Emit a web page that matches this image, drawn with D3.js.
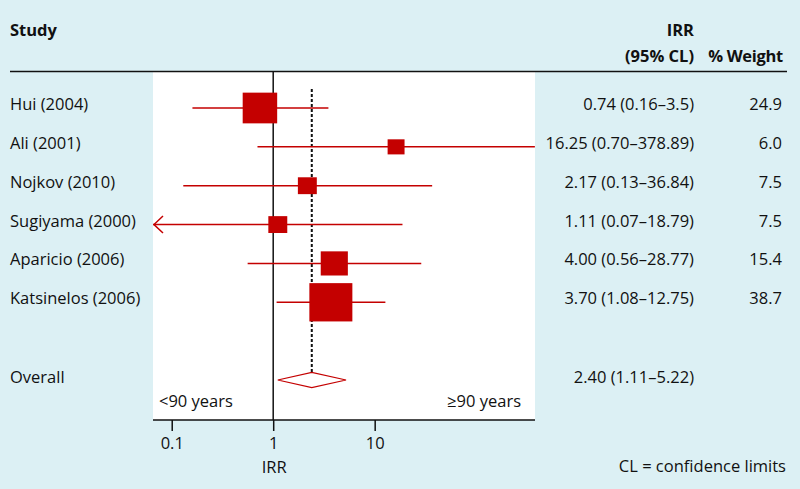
<!DOCTYPE html>
<html><head><meta charset="utf-8">
<script src="https://cdn.jsdelivr.net/npm/d3@7"></script>
<style>
html,body{margin:0;padding:0;background:#dcf0f4;}
svg{display:block;font-family:"Open Sans",sans-serif;}
</style></head><body>
<div id="chart"></div>
<script>
const studies = ["Hui (2004)", "Ali (2001)", "Nojkov (2010)", "Sugiyama (2000)", "Aparicio (2006)", "Katsinelos (2006)"];
const irr = [0.74, 16.25, 2.17, 1.11, 4.00, 3.70];
const lower = [0.16, 0.70, 0.13, 0.07, 0.56, 1.08];
const upper = [3.5, 378.89, 36.84, 18.79, 28.77, 12.75];
const ciLabels = ["0.74 (0.16–3.5)", "16.25 (0.70–378.89)", "2.17 (0.13–36.84)", "1.11 (0.07–18.79)", "4.00 (0.56–28.77)", "3.70 (1.08–12.75)"];
const weight = [24.9, 6.0, 7.5, 7.5, 15.4, 38.7];
const overallLabel = "Overall";
const overall = [2.40, 1.11, 5.22];
const overallText = "2.40 (1.11–5.22)";
const xTicks = [0.1, 1, 10];

const W = 800, H = 489;
const red = "#c40000";
const FS = 16.5;
const svg = d3.select("#chart").append("svg").attr("width", W).attr("height", H);
svg.append("rect").attr("width", W).attr("height", H).attr("fill", "#dcf0f4");

const x = d3.scaleLog().domain([0.07, 380]).range([156, 535]);
const y = d3.scaleLinear().domain([0, 7]).range([108, 380]);
const wScale = d3.scaleSqrt().domain([0, 38.7]).range([0, 43]);
const hScale = d3.scaleSqrt().domain([0, 38.7]).range([0, 38.3]);

const panelL = 153, panelR = 535, panelT = 72, panelB = 420;

// white panel
svg.append("rect").attr("x", panelL).attr("y", panelT).attr("width", panelR - panelL).attr("height", panelB - panelT).attr("fill", "#fff");

svg.append("clipPath").attr("id", "clip").append("rect")
  .attr("x", panelL).attr("y", panelT).attr("width", panelR - panelL).attr("height", panelB - panelT);
const plot = svg.append("g").attr("clip-path", "url(#clip)");

// header
svg.append("text").attr("x", 10).attr("y", 36).attr("font-size", FS).attr("font-weight", "bold").attr("fill", "#111").text("Study");
svg.append("text").attr("x", 694).attr("y", 36).attr("text-anchor", "end").attr("font-size", FS).attr("font-weight", "bold").attr("fill", "#111").text("IRR");
svg.append("text").attr("x", 694).attr("y", 62).attr("text-anchor", "end").attr("font-size", FS).attr("font-weight", "bold").attr("fill", "#111").text("(95% CL)");
svg.append("text").attr("x", 783).attr("y", 62).attr("text-anchor", "end").attr("font-size", FS).attr("font-weight", "bold").attr("fill", "#111").attr("letter-spacing", -0.3).text("% Weight");
svg.append("line").attr("x1", 10).attr("x2", 787).attr("y1", 71.5).attr("y2", 71.5).attr("stroke", "#111").attr("stroke-width", 1.5);

// reference lines
plot.append("line").attr("x1", x(1)).attr("x2", x(1)).attr("y1", panelT).attr("y2", panelB).attr("stroke", "#111").attr("stroke-width", 1.5);
plot.append("line").attr("x1", x(overall[0])).attr("x2", x(overall[0])).attr("y1", 89).attr("y2", y(7)).attr("stroke", "#111").attr("stroke-width", 2).attr("stroke-dasharray", "3,2");

// CI lines
const idx = d3.range(studies.length);
plot.selectAll("line.ci").data(idx).join("line").attr("class", "ci")
  .attr("x1", i => lower[i] <= x.domain()[0] ? panelL : x(lower[i]))
  .attr("x2", i => x(Math.min(upper[i], x.domain()[1])))
  .attr("y1", i => y(i)).attr("y2", i => y(i))
  .attr("stroke", red).attr("stroke-width", 1.5);

// arrows for truncated lower limits
plot.selectAll("path.arrow").data(idx.filter(i => lower[i] <= x.domain()[0])).join("path").attr("class", "arrow")
  .attr("d", i => `M${panelL + 10},${y(i) - 8.5}L${panelL + 1},${y(i)}L${panelL + 10},${y(i) + 8.5}`)
  .attr("fill", "none").attr("stroke", red).attr("stroke-width", 1.5);

// squares
plot.selectAll("rect.pt").data(idx).join("rect").attr("class", "pt")
  .attr("x", i => x(irr[i]) - wScale(weight[i]) / 2)
  .attr("y", i => y(i) - hScale(weight[i]) / 2)
  .attr("width", i => wScale(weight[i]))
  .attr("height", i => hScale(weight[i]))
  .attr("fill", red);

// diamond
const dy = 7.7;
plot.append("path")
  .attr("d", `M${x(overall[1])},${y(7)}L${x(overall[0])},${y(7) - dy}L${x(overall[2])},${y(7)}L${x(overall[0])},${y(7) + dy}Z`)
  .attr("fill", "#fff").attr("stroke", red).attr("stroke-width", 1.2);

// row labels
svg.selectAll("text.study").data(idx).join("text").attr("class", "study")
  .attr("x", 10).attr("y", i => y(i) + 2).attr("font-size", FS).attr("fill", "#111").text(i => studies[i]);
svg.selectAll("text.ci").data(idx).join("text").attr("class", "ci")
  .attr("x", 694).attr("y", i => y(i) + 2).attr("text-anchor", "end").attr("font-size", FS).attr("fill", "#111").text(i => ciLabels[i]);
svg.selectAll("text.wt").data(idx).join("text").attr("class", "wt")
  .attr("x", 782).attr("y", i => y(i) + 2).attr("text-anchor", "end").attr("font-size", FS).attr("fill", "#111").text(i => weight[i].toFixed(1));
svg.append("text").attr("x", 10).attr("y", y(7) + 3).attr("font-size", FS).attr("fill", "#111").text(overallLabel);
svg.append("text").attr("x", 694).attr("y", y(7) + 3).attr("text-anchor", "end").attr("font-size", FS).attr("fill", "#111").text(overallText);

// region labels
svg.append("text").attr("x", 159).attr("y", 407).attr("font-size", FS).attr("fill", "#111").text("<90 years");
svg.append("text").attr("x", 521).attr("y", 407).attr("text-anchor", "end").attr("font-size", FS).attr("fill", "#111").text("≥90 years");

// axis
svg.append("line").attr("x1", panelL).attr("x2", panelR).attr("y1", panelB).attr("y2", panelB).attr("stroke", "#111").attr("stroke-width", 1.5);
const axis = d3.axisBottom(x).tickValues(xTicks).tickFormat(d => String(d)).tickSize(11).tickSizeOuter(0).tickPadding(6);
const ag = svg.append("g").attr("transform", `translate(0,${panelB})`).call(axis);
ag.select(".domain").remove();
ag.selectAll(".tick line").attr("stroke", "#111").attr("stroke-width", 1.5);
ag.selectAll(".tick text").attr("font-size", FS).attr("fill", "#111").attr("font-family", "Open Sans, sans-serif");
svg.append("text").attr("x", x(1) + 1).attr("y", 473).attr("text-anchor", "middle").attr("font-size", FS).attr("fill", "#111").text("IRR");
svg.append("text").attr("x", 786).attr("y", 472).attr("text-anchor", "end").attr("font-size", FS).attr("fill", "#111").text("CL = confidence limits");
</script></body></html>
